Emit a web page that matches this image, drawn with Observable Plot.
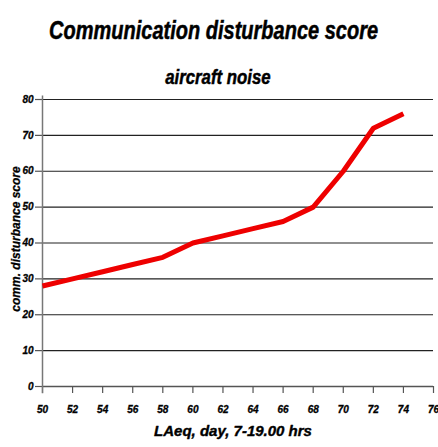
<!DOCTYPE html>
<html>
<head>
<meta charset="utf-8">
<script src="https://cdn.jsdelivr.net/npm/d3@7"></script>
<script src="https://cdn.jsdelivr.net/npm/@observablehq/plot@0.6"></script>
<style>
  body { margin: 0; background: #fff; }
  #wrap { position: relative; width: 438px; height: 447px; overflow: hidden; font-family: "Liberation Sans", Arial, sans-serif; }
  .ttl { position: absolute; left: 0; width: 438px; text-align: center; font-weight: bold; font-style: italic; color: #000; white-space: nowrap; box-sizing: border-box; }
  .ttl span { display: inline-block; transform: scaleX(0.8); transform-origin: center; -webkit-text-stroke: 0.5px #000; }
  #title { top: 15px; font-size: 25px; line-height: 30px; padding-right: 11px; }
  #subtitle { top: 64px; font-size: 21px; line-height: 26px; padding-right: 2px; }
  #chart { position: absolute; left: 0; top: 88px; }
</style>
</head>
<body>
<div id="wrap">
  <div id="title" class="ttl"><span>Communication disturbance score</span></div>
  <div id="subtitle" class="ttl"><span>aircraft noise</span></div>
  <div id="chart"></div>
</div>
<script>
const laeq = [50, 52, 54, 56, 58, 60, 62, 64, 66, 68, 70, 72, 74];
const score = [28, 30, 32, 34, 36, 40, 42, 44, 46, 50, 60, 72, 76];
const xTicks = [50, 52, 54, 56, 58, 60, 62, 64, 66, 68, 70, 72, 74, 76];
const yTicks = [0, 10, 20, 30, 40, 50, 60, 70, 80];
const xLabel = "LAeq, day, 7-19.00 hrs";
const yLabel = "comm. disturbance score";

const data = laeq.map((x, i) => ({x, y: score[i]}));
const fontOpts = {fontFamily: "Liberation Sans, Arial, sans-serif", fontWeight: "bold", fontStyle: "italic"};

const chart = Plot.plot({
  width: 438,
  height: 359,
  marginTop: 11,
  marginLeft: 42,
  marginRight: 5,
  marginBottom: 61,
  x: {domain: [50, 76]},
  y: {domain: [0, 80]},
  style: {background: "#fff", overflow: "visible"},
  marks: [
    Plot.ruleY(yTicks.filter(d => d > 0), {stroke: "#222", strokeWidth: 1.2, strokeOpacity: 1}),
    Plot.ruleY([0], {stroke: "#555", strokeWidth: 1.5}),
    Plot.axisY({ticks: yTicks, tickSize: 7, tickPadding: 2, fontSize: 10, ...fontOpts, stroke: "#555", strokeWidth: 1.2, label: null, color: "#000"}),
    Plot.axisX({ticks: xTicks, tickSize: 7, tickPadding: 12, fontSize: 10, ...fontOpts, stroke: "#555", strokeWidth: 1.2, label: null, tickFormat: d => String(d)}),
    Plot.ruleX([50], {y1: -2, y2: 81, stroke: "#777", strokeWidth: 1.5}),
    Plot.line(data, {x: "x", y: "y", stroke: "#ee0000", strokeWidth: 5, strokeLinejoin: "miter", strokeLinecap: "butt"}),
    Plot.text([xLabel], {frameAnchor: "bottom", dx: -5, dy: 49, text: d => d, fontSize: 15, ...fontOpts, fill: "#000", stroke: "#000", strokeWidth: 0.4}),
    Plot.text([yLabel], {frameAnchor: "left", textAnchor: "middle", dx: -26, dy: -4, rotate: -90, text: d => d, fontSize: 12, ...fontOpts, fill: "#000", stroke: "#000", strokeWidth: 0.3})
  ]
});
document.getElementById("chart").appendChild(chart);
// embolden tick labels slightly to mimic the heavy original font
d3.select(chart).selectAll("[aria-label^='y-axis tick label'] text, [aria-label^='x-axis tick label'] text")
  .attr("stroke", "#000").attr("stroke-width", 0.3);
</script>
</body>
</html>
